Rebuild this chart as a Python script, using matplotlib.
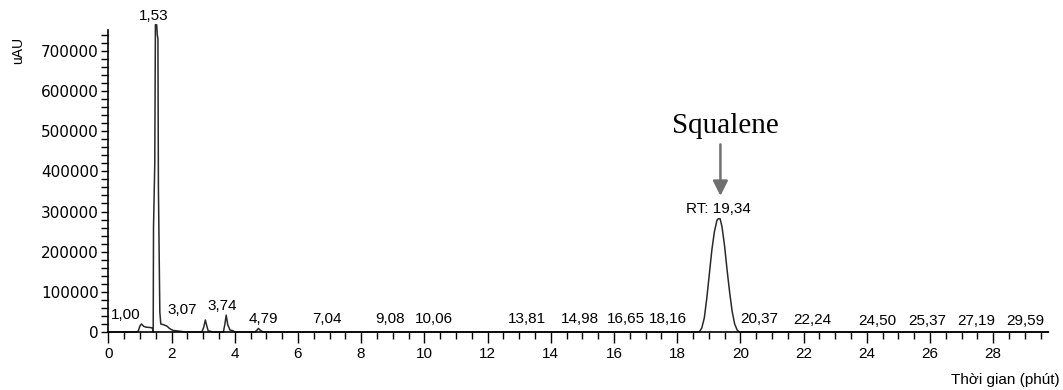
import matplotlib
matplotlib.use("Agg")
import matplotlib.pyplot as plt
from matplotlib.ticker import MultipleLocator

plt.rcParams['font.family'] = ['Liberation Sans', 'DejaVu Sans']

# chromatogram trace (time in minutes, signal in uAU)
time = [0.00, 0.90, 0.95, 1.00, 1.05, 1.12, 1.20, 1.35, 1.40, 1.42,
        1.43, 1.47, 1.49, 1.53, 1.55, 1.57, 1.585, 1.63, 1.66, 1.75,
        1.85, 1.95, 2.05, 2.30, 2.45,
        2.96, 3.02, 3.07, 3.12, 3.16, 3.27, 3.30,
        3.64, 3.69, 3.73, 3.78, 3.85, 3.95, 4.00,
        4.64, 4.72, 4.75, 4.80, 4.90,
        18.70, 18.78, 18.86, 18.94, 19.02, 19.10, 19.18, 19.26, 19.30,
        19.36, 19.42, 19.50, 19.58, 19.66, 19.74, 19.82, 19.90, 19.97, 29.75]
signal = [0, 0, 3000, 15000, 20000, 14000, 12000, 11000, 9000, 0,
          260000, 420000, 765000, 765000, 740000, 730000, 360000, 50000, 20000, 18000,
          15000, 8000, 4000, 1500, 0,
          0, 12000, 30000, 14000, 3000, 1000, 0,
          0, 20000, 42000, 18000, 5000, 3000, 0,
          0, 6000, 9000, 5000, 0,
          0, 10000, 35000, 85000, 145000, 205000, 250000, 278000, 282000,
          282000, 262000, 215000, 155000, 100000, 52000, 20000, 5000, 0, 0]

y_ticks = [0, 100000, 200000, 300000, 400000, 500000, 600000, 700000]

# peak labels: text, x, y (data units)
peak_text = ['1,00', '1,53', '3,07', '3,74', '4,79', '7,04', '9,08', '10,06',
             '13,81', '14,98', '16,65', '18,16', 'RT: 19,34', '20,37', '22,24',
             '24,50', '25,37', '27,19', '29,59']
peak_x = [0.56, 1.43, 2.35, 3.60, 4.90, 6.91, 8.91, 10.31,
          13.24, 14.93, 16.37, 17.71, 19.30, 20.59, 22.27,
          24.34, 25.90, 27.45, 29.01]
peak_y = [42000, 786000, 54000, 64000, 32000, 33000, 33000, 33000,
          33000, 33000, 33000, 33000, 307000, 33000, 30000,
          27000, 27000, 27000, 27000]

fig = plt.figure(figsize=(10.63, 3.9), dpi=100)
ax = fig.add_axes([0.1019, 0.1487, 0.8844, 0.7744])

ax.plot(time, signal, color='#2a2a2a', linewidth=1.1, clip_on=False)

ax.set_xlim(0, 29.75)
ax.set_ylim(0, 752000)

for s in ['top', 'right']:
    ax.spines[s].set_visible(False)
for s in ['left', 'bottom']:
    ax.spines[s].set_linewidth(1.2)

ax.xaxis.set_major_locator(MultipleLocator(2))
ax.xaxis.set_minor_locator(MultipleLocator(0.5))
ax.set_yticks(y_ticks, [str(v) for v in y_ticks], family='DejaVu Sans')
ax.yaxis.set_minor_locator(MultipleLocator(20000))
ax.tick_params(axis='x', which='major', length=8, width=1, labelsize=11, pad=3)
ax.tick_params(axis='x', which='minor', length=5, width=1)
ax.tick_params(axis='y', which='both', length=5, width=1, labelsize=11, pad=2)

for t, x, y in zip(peak_text, peak_x, peak_y):
    ax.text(x, y, t, ha='center', va='center', fontsize=11, clip_on=False)

# squalene annotation
ax.annotate('', xy=(19.37, 332000), xytext=(19.37, 474000),
            arrowprops=dict(arrowstyle='-|>,head_width=0.45,head_length=0.9',
                            color='#707070', lw=1.8))
ax.text(19.52, 514000, 'Squalene', ha='center', va='center', fontsize=21,
        family='Liberation Serif')

fig.text(18 / 1063, 1 - 50 / 390, 'uAU', rotation=90, ha='center', va='center', fontsize=10)
fig.text(1060 / 1063, 1 - 380 / 390, 'Thời gian (phút)', ha='right', va='center', fontsize=11)

fig.savefig('out.png', dpi=100)
